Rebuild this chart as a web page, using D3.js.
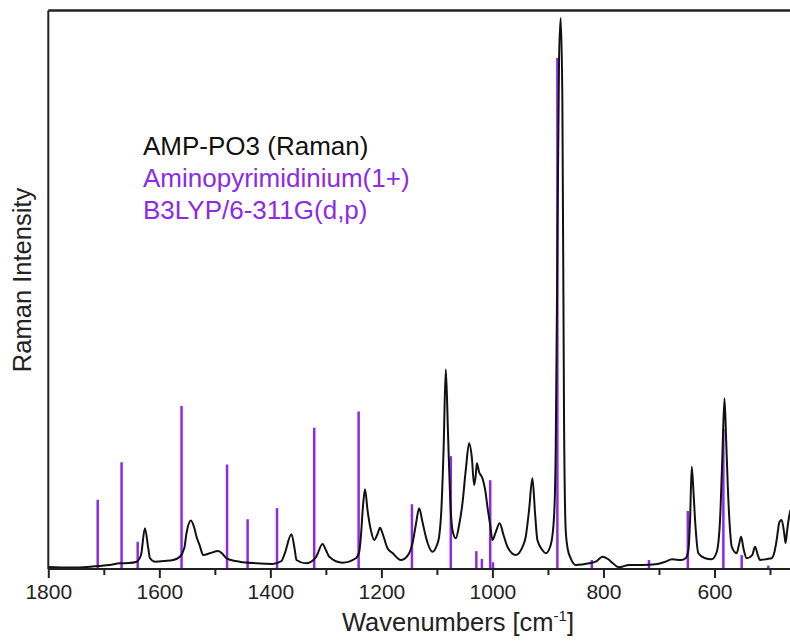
<!DOCTYPE html>
<html>
<head>
<meta charset="utf-8">
<script src="https://cdn.jsdelivr.net/npm/d3@7"></script>
<style>
  body { margin: 0; background: #fff; }
  svg { display: block; font-family: "Liberation Sans", Arial, sans-serif; }
</style>
</head>
<body>
<svg id="raman-svg" width="790" height="641"></svg>
<script>
// measured Raman spectrum (wavenumber, intensity a.u.)
let ramanWn = [1800, 1760, 1730, 1710, 1690, 1671, 1655, 1641, 1633, 1626, 1620, 1617, 1608, 1590, 1575,
  1563, 1555, 1551, 1543, 1537, 1533, 1527, 1521, 1509, 1494, 1486, 1479, 1455, 1425, 1396, 1380, 1374,
  1362, 1356, 1353, 1336, 1318, 1306, 1300, 1294, 1270, 1246, 1240, 1237, 1233, 1229.5, 1225, 1219, 1213,
  1207, 1202.5, 1197, 1189, 1180, 1165, 1152, 1144, 1138, 1132, 1126, 1120, 1108, 1100, 1096, 1092, 1088,
  1084, 1080, 1076, 1072, 1066, 1060, 1054, 1048, 1042, 1037, 1033, 1030, 1028, 1024, 1018, 1013, 1009,
  1004, 1000, 994, 987, 980, 973, 958, 945, 940, 934, 928, 923, 919, 910, 904, 895, 889, 886, 883, 880,
  877, 874, 871, 868, 864, 859, 850, 826, 812, 802, 792, 784, 772, 754, 730, 706, 690, 676, 660, 652, 647,
  644, 641, 638, 635, 629, 618, 605, 596, 590, 586, 582, 579, 576, 572, 569, 560, 556, 552, 548, 542, 532,
  527, 522, 518, 505, 497, 492, 488, 483, 479, 474, 472, 469, 466, 463];
let ramanInt = [3.6, 2.7, 3.6, 5.4, 7.2, 10.2, 10.7, 13.1, 25, 72.9, 37.6, 19.7, 13.1, 14.3, 16.1,
  22, 37.6, 64.5, 86.8, 73.4, 57.8, 41.2, 25, 28.1, 32.2, 26.9, 19.2, 13.1, 10.2, 9, 14.3, 28.1,
  62.1, 34, 16.1, 10.2, 20.9, 44.8, 34, 22, 11.3, 19.2, 30.4, 57.8, 114.6, 142.7, 105.6, 69.8, 51.9,
  62.7, 73.9, 60.9, 37.1, 28.6, 16.1, 25, 46, 78.8, 108.7, 84.2, 57.8, 31, 43, 57.8, 105.6, 213,
  357.6, 243, 123.5, 69.8, 55, 78.8, 117.6, 177.3, 225, 198.7, 150.4, 168.3, 189.3, 173.7, 162.4, 141.4, 111.5,
  78.8, 51.9, 66.2, 81.8, 60.9, 39.9, 25, 41.2, 57.8, 105.6, 162.4, 96.7, 51.9, 34, 28.1, 43, 93.6, 213, 571, 911,
  986.6, 839.7, 266.8, 69.8, 34, 19.2, 7.2, 10.2, 14.3, 22, 17.9, 11.3, 3, 7.2, 7.2, 8.4, 12.5, 17.4, 16.1, 19.2, 34,
  87.7, 183.2, 141.4, 87.7, 28.1, 19.7, 17.4, 30.4, 87.7, 195.2, 305.6, 231, 147.4, 69.8, 39.9, 28.1, 43, 57.8, 37.6, 19.2, 25,
  39.9, 25, 16.1, 17.9, 19.2, 30.4, 51.9, 84.2, 87.7, 60.9, 46.6, 69.8, 91.3, 105.6];

// calculated B3LYP lines
let calcWn = [1711, 1668, 1639, 1560, 1478, 1441, 1388, 1321, 1241, 1145, 1075, 1029, 1019, 1004, 999,
  883, 821, 718, 648, 584, 551, 503];
let calcInt = [124, 191, 49, 292, 187, 89, 109, 253, 282, 116, 202, 32, 18, 159, 12,
  915, 16, 16, 104, 251, 25, 6];

let xMajorTicks = [1800, 1600, 1400, 1200, 1000, 800, 600];
let xMinorTicks = [1700, 1500, 1300, 1100, 900, 700, 500];

let legendLines = ["AMP-PO3 (Raman)", "Aminopyrimidinium(1+)", "B3LYP/6-311G(d,p)"];

let ramanColor = "#111";
let calcColor = "#8b2be8";

let svg = d3.select('#raman-svg');
let plot = {l: 48.3, r: 770, t: 10.5, b: 569};

let xScale = d3.scaleLinear().domain([1800, 500]).range([plot.l, plot.r]);
let yScale = d3.scaleLinear().domain([0, 1000]).range([plot.b, plot.t]);

svg.append('clipPath').attr('id', 'plot-clip')
  .append('rect')
  .attr('x', plot.l).attr('y', plot.t)
  .attr('width', 790 - plot.l).attr('height', plot.b - plot.t);

let plotG = svg.append('g').attr('clip-path', 'url(#plot-clip)');

// stick spectrum
plotG.selectAll('line.calc')
  .data(calcWn)
  .join('line')
  .attr('class', 'calc')
  .attr('x1', d => xScale(d))
  .attr('x2', d => xScale(d))
  .attr('y1', yScale(0))
  .attr('y2', (d, i) => yScale(calcInt[i]))
  .attr('stroke', calcColor)
  .attr('stroke-width', 2.5);

// raman line
let lineFun = d3.line()
  .x((d, i) => xScale(ramanWn[i]))
  .y((d, i) => yScale(d))
  .curve(d3.curveMonotoneX);
plotG.append('path')
  .datum(ramanInt)
  .attr('fill', 'none')
  .attr('stroke', ramanColor)
  .attr('stroke-width', 2)
  .attr('stroke-linejoin', 'round')
  .attr('d', lineFun);

// frame
let frameColor = "#222";
svg.append('line').attr('x1', plot.l).attr('x2', plot.l).attr('y1', plot.t).attr('y2', plot.b)
  .attr('stroke', frameColor).attr('stroke-width', 2);
svg.append('line').attr('x1', plot.l).attr('x2', 790).attr('y1', plot.t).attr('y2', plot.t)
  .attr('stroke', frameColor).attr('stroke-width', 2.5);

// x axis
let xAxis = d3.axisBottom(xScale).tickValues(xMajorTicks).tickSize(9).tickSizeOuter(0)
  .tickPadding(6).tickFormat(d3.format('d'));
let xMinor = d3.axisBottom(xScale).tickValues(xMinorTicks).tickSize(6).tickSizeOuter(0).tickFormat('');
let xAxisG = svg.append('g')
  .attr('transform', `translate(0, ${plot.b})`)
  .call(xAxis);
svg.append('g')
  .attr('transform', `translate(0, ${plot.b})`)
  .call(xMinor)
  .select('.domain').remove();
xAxisG.select('.domain').attr('d', `M${plot.l},0H790`).attr('stroke', frameColor).attr('stroke-width', 2);
svg.selectAll('.tick line').attr('stroke', frameColor).attr('stroke-width', 2);
xAxisG.selectAll('.tick text')
  .attr('fill', '#222')
  .style('font-size', '21px')
  .style('font-family', '"Liberation Sans", Arial, sans-serif');

// axis titles
let xTitle = svg.append('text')
  .attr('x', 458).attr('y', 631)
  .attr('text-anchor', 'middle')
  .attr('fill', '#222')
  .style('font-size', '25.5px');
xTitle.append('tspan').text('Wavenumbers [cm');
xTitle.append('tspan').text('-1').attr('dy', -10).style('font-size', '15px');
xTitle.append('tspan').text(']').attr('dy', 10);

svg.append('text')
  .attr('transform', 'translate(31, 280) rotate(-90)')
  .attr('text-anchor', 'middle')
  .attr('fill', '#222')
  .style('font-size', '25.5px')
  .text('Raman Intensity');

// legend
svg.append('g')
  .selectAll('text')
  .data(legendLines)
  .join('text')
  .attr('x', 143)
  .attr('y', (d, i) => 155 + i * 32)
  .attr('fill', (d, i) => i === 0 ? '#111' : calcColor)
  .style('font-size', '26px')
  .text(d => d);
</script>
</body>
</html>
